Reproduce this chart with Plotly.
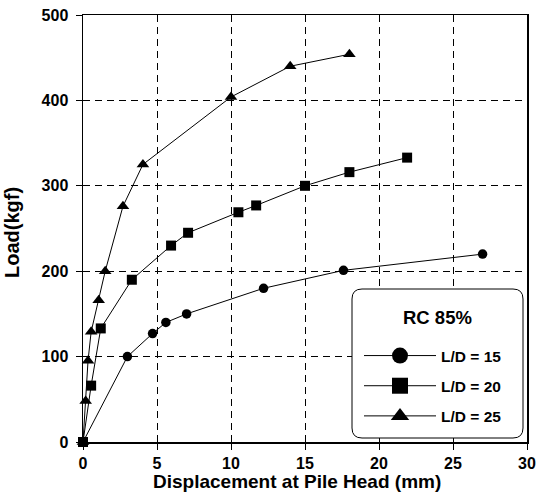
import plotly.graph_objects as go

# L/D = 15 (circles)
x15 = [0, 3.0, 4.7, 5.6, 7.0, 12.2, 17.6, 27.0]
y15 = [0, 100, 127, 140, 150, 180, 201, 220]
# L/D = 20 (squares)
x20 = [0, 0.55, 1.2, 3.3, 5.95, 7.1, 10.5, 11.7, 15.0, 18.0, 21.9]
y20 = [0, 66, 133, 190, 230, 245, 269, 277, 300, 316, 333]
# L/D = 25 (triangles)
x25 = [0, 0.18, 0.34, 0.55, 1.06, 1.5, 2.7, 4.05, 10.0, 14.0, 18.0]
y25 = [0, 48, 95, 129, 166, 200, 276, 325, 404, 440, 454]

names = ["L/D = 15", "L/D = 20", "L/D = 25"]
symbols = ["circle", "square", "triangle-up"]
xs = [x15, x20, x25]
ys = [y15, y20, y25]
sizes = [9.5, 10, 11]

x_ticks = [0, 5, 10, 15, 20, 25, 30]
y_ticks = [0, 100, 200, 300, 400, 500]

FONT = "Liberation Sans, Arial, sans-serif"

fig = go.Figure()
for x, y, n, s, sz in zip(xs, ys, names, symbols, sizes):
    fig.add_trace(go.Scatter(
        x=x, y=y, mode="lines+markers", name=n, showlegend=False,
        line=dict(color="black", width=1),
        marker=dict(symbol=s, size=sz, color="black"),
        cliponaxis=False,
    ))
for i, (n, s) in enumerate(zip(names, symbols)):
    fig.add_trace(go.Scatter(
        x=[None], y=[None], mode="lines+markers", name=n, legendgroup="g%d" % i,
        line=dict(color="black", width=1),
        marker=dict(symbol=s, size=16, color="black"),
    ))

W, H = 536, 497
PL, PR, PT, PB = 83, 527, 15, 442  # plot area in window pixels
ml, mr, mt, mb = PL, W - PR, PT, H - PB
pw, ph = PR - PL, PB - PT

def px2paper(px, py):
    return (px - PL) / pw, (PB - py) / ph

bx0, by0 = px2paper(352, 289)
bx1, by1 = px2paper(523, 438)
r = 10
rx, ry = r / pw, r / ph
path = (f"M{bx0+rx},{by0} L{bx1-rx},{by0} Q{bx1},{by0} {bx1},{by0-ry} "
        f"L{bx1},{by1+ry} Q{bx1},{by1} {bx1-rx},{by1} L{bx0+rx},{by1} "
        f"Q{bx0},{by1} {bx0},{by1+ry} L{bx0},{by0-ry} Q{bx0},{by0} {bx0+rx},{by0} Z")
fig.add_shape(type="path", path=path, xref="paper", yref="paper",
              line=dict(color="black", width=1), fillcolor="white", layer="above")

def label(px, py, text, size, angle=0):
    ax, ay = px2paper(px, py)
    fig.add_annotation(x=ax, y=ay, xref="paper", yref="paper", text=text,
                       xanchor="center", yanchor="middle", textangle=angle,
                       showarrow=False,
                       font=dict(family=FONT, size=size, color="black", weight="bold"))

label(437, 317, "RC 85%", 18.5)
label(297, 481, "Displacement at Pile Head (mm)", 19)
label(12, 233, "Load(kgf)", 20, -90)

lx, ly = px2paper(359, 339)
fig.update_layout(
    width=W, height=H,
    margin=dict(l=ml, r=mr, t=mt, b=mb, autoexpand=False),
    paper_bgcolor="white", plot_bgcolor="white",
    font=dict(family=FONT, color="black"),
    showlegend=True,
    legend=dict(x=lx, y=ly, xanchor="left", yanchor="top",
                bgcolor="rgba(0,0,0,0)", borderwidth=0,
                tracegroupgap=7, itemwidth=72,
                font=dict(family=FONT, size=15.5, color="black", weight="bold")),
    xaxis=dict(
        range=[0, 30], tickvals=x_ticks, ticktext=[str(v) for v in x_ticks],
        showline=True, linecolor="black", linewidth=1.5, mirror=True,
        ticks="outside", ticklen=6, tickcolor="black",
        showgrid=True, gridcolor="black", gridwidth=1, griddash="7px,5px",
        zeroline=False, automargin=False, ticklabeloverflow="allow",
        tickfont=dict(family=FONT, size=16, color="black", weight="bold"),
        ticklabelstandoff=0,
    ),
    yaxis=dict(
        range=[0, 500], tickvals=y_ticks, ticktext=[str(v) for v in y_ticks],
        showline=True, linecolor="black", linewidth=1.5, mirror=True,
        ticks="outside", ticklen=6, tickcolor="black",
        showgrid=True, gridcolor="black", gridwidth=1, griddash="7px,5px",
        zeroline=False, automargin=False, ticklabeloverflow="allow",
        tickfont=dict(family=FONT, size=16, color="black", weight="bold"),
        ticklabelstandoff=4,
    ),
)

fig.write_html("out.html",
               config={"displayModeBar": False, "staticPlot": True},
               post_script="document.body.style.margin='0';document.body.style.overflow='hidden';")
